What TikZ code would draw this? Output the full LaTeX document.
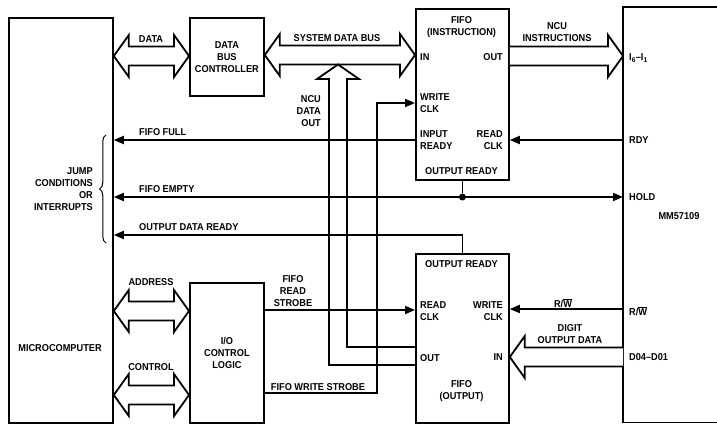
\documentclass[tikz,border=0pt]{standalone}
\usepackage{fontspec}
\setmainfont[FakeStretch=0.92]{Liberation Sans}
\usetikzlibrary{arrows.meta,calc,decorations.pathreplacing}

% horizontal bus, heads at both ends
\newcommand\busboth[2]{%
  \draw[bus] let \p1=(#1), \p2=(#2) in
    (\x1,\y1) -- ++(15pt,21pt) -- ++(0pt,-11.5pt) -- (\x2-15pt,\y1+9.5pt) -- ++(0pt,11.5pt)
    -- (\x2,\y1) -- ++(-15pt,-21pt) -- ++(0pt,11.5pt) -- (\x1+15pt,\y1-9.5pt) -- ++(0pt,-11.5pt) -- cycle;}
% horizontal bus, tail #1 (on a box edge), head at #2 pointing right
\newcommand\busright[2]{%
  \draw[bus] let \p1=(#1), \p2=(#2) in
    (\x1,\y1+9.5pt) -- (\x2-15pt,\y1+9.5pt) -- ++(0pt,11.5pt) -- (\x2,\y1)
    -- ++(-15pt,-21pt) -- ++(0pt,11.5pt) -- (\x1,\y1-9.5pt);}
% horizontal bus, tail #1 (on a box edge), head at #2 pointing left
\newcommand\busleft[2]{%
  \draw[bus] let \p1=(#1), \p2=(#2) in
    (\x1,\y1+9.5pt) -- (\x2+15pt,\y1+9.5pt) -- ++(0pt,11.5pt) -- (\x2,\y1)
    -- ++(15pt,-21pt) -- ++(0pt,11.5pt) -- (\x1,\y1-9.5pt);}

\begin{document}
\begin{tikzpicture}[x=1pt,y=-1pt,
  every node/.style={font=\bfseries\fontsize{10}{12}\selectfont, inner sep=0pt},
  box/.style={draw, line width=1.8pt, inner sep=0pt, anchor=north west, align=center},
  wire/.style={line width=1.8pt},
  tip/.tip={Triangle[length=10pt,width=8pt]},
  arr/.style={wire, -tip},
  darr/.style={wire, tip-tip},
  bus/.style={line width=1.8pt, fill=white, line join=miter},
]
\useasboundingbox (0,0) rectangle (717,425);

% ---------- boxes ----------
\node[box, minimum width=104, minimum height=405] (micro) at (8,17) {};
\node[box, minimum width=74, minimum height=78] (dbc) at (189,17) {DATA\\BUS\\CONTROLLER};
\node[box, minimum width=74, minimum height=140] (iocl) at (189,282) {I/O\\CONTROL\\LOGIC};
\node[box, minimum width=93, minimum height=171] (fifoi) at (415,8) {};
\node[box, minimum width=93, minimum height=169] (fifoo) at (415,253) {};
\node[anchor=north west, minimum width=110, minimum height=415] (mm) at (623,7) {};
\draw[wire] (mm.north east) -- (mm.north west) -- (mm.south west) -- (mm.south east);

% ---------- bus connectors ----------
\coordinate (dataL) at (micro.east |- 0,56);
\coordinate (dataR) at (dbc.west |- 0,56);
\busboth{dataL}{dataR}
\coordinate (addrL) at (micro.east |- 0,311);
\coordinate (addrR) at (iocl.west |- 0,311);
\busboth{addrL}{addrR}
\coordinate (ctrlL) at (micro.east |- 0,395);
\coordinate (ctrlR) at (iocl.west |- 0,395);
\busboth{ctrlL}{ctrlR}
\coordinate (sdbL) at (dbc.east |- 0,55);
\coordinate (sdbR) at (fifoi.west |- 0,55);
\busboth{sdbL}{sdbR}
\coordinate (nciL) at (fifoi.east |- 0,56);
\coordinate (nciR) at (mm.west |- 0,56);
\busright{nciL}{nciR}
\coordinate (dodR) at (mm.west |- 0,357);
\coordinate (dodL) at (fifoo.east |- 0,357);
\busleft{dodR}{dodL}

% NCU data out (open bus from FIFO output OUT up to the system data bus)
\coordinate (ncutip) at (338,64.5);
\draw[bus, fill=none] (fifoo.west |- 0,365) -| (329,79) -- (317,79) -- (ncutip)
  -- (359,79) -- (347,79) |- (fifoo.west |- 0,347);

% ---------- single-line connectors ----------
\draw[arr] (fifoi.west |- 0,140) -- (micro.east |- 0,140);
\draw[arr] (mm.west |- 0,140) -- (fifoi.east |- 0,140);
\draw[darr] (micro.east |- 0,197) -- (mm.west |- 0,197);
\node[circle, fill, minimum size=7pt] (jn) at (fifoi.south |- 0,197) {};
\draw[wire] (fifoi.south) -- (jn);
\draw[arr] (fifoo.north) |- (micro.east |- 0,235);
\coordinate (wc) at (377,103);
\draw[arr] (iocl.east |- 0,393) -| (wc) -- (fifoi.west |- wc);
\draw[arr] (iocl.east |- 0,310) -- (fifoo.west |- 0,310);
\draw[arr] (mm.west |- 0,309) -- (fifoo.east |- 0,309);

% brace
\draw[line width=1pt, decorate, decoration={brace, amplitude=6.5pt}] (106,243) -- (106,135);

% ---------- labels ----------
\node (lmicro) at (60,348) {MICROCOMPUTER};
\node[align=right, anchor=east] (ljump) at (93,189) {JUMP\\CONDITIONS\\OR\\INTERRUPTS};
\node (ldata) at (151,39) {DATA};
\node (laddr) at (151,282) {ADDRESS};
\node (lctrl) at (151,367) {CONTROL};
\node[anchor=west] (lfull) at (139,132) {FIFO FULL};
\node[anchor=west] (lempty) at (139,189) {FIFO EMPTY};
\node[anchor=west] (lodr) at (139,227) {OUTPUT DATA READY};
\node (lsdb) at (337,38) {SYSTEM DATA BUS};
\node[align=right, anchor=east] (lncu) at (321,111) {NCU\\DATA\\OUT};
\node[align=center] (lfrs) at (293,291) {FIFO\\READ\\STROBE};
\node (lfws) at (318,387) {FIFO WRITE STROBE};

\node[align=center] (lfi) at (461.5,27) {FIFO\\(INSTRUCTION)};
\node[anchor=west] (lfiin) at (420,57) {IN};
\node[anchor=east] (lfiout) at (503,57) {OUT};
\node[anchor=west, align=left] (lfiwc) at (420,103) {WRITE\\CLK};
\node[anchor=west, align=left] (lfiir) at (420,140) {INPUT\\READY};
\node[anchor=east, align=right] (lfirc) at (503,140) {READ\\CLK};
\node (lfior) at (461.5,171) {OUTPUT READY};

\node (lfoor) at (461.5,264) {OUTPUT READY};
\node[anchor=west, align=left] (lforc) at (420,311.5) {READ\\CLK};
\node[anchor=east, align=right] (lfowc) at (503,311.5) {WRITE\\CLK};
\node[anchor=west] (lfoout) at (420,358) {OUT};
\node[anchor=east] (lfoin) at (503,357) {IN};
\node[align=center] (lfo) at (461.5,391) {FIFO\\(OUTPUT)};

\node[align=center] (lnci) at (557,32) {NCU\\INSTRUCTIONS};
\node[align=center] (ldod) at (570,334.5) {DIGIT\\OUTPUT DATA};
\node (lrw) at (563,303) {R/$\overline{\hbox{W}}$};

\node[anchor=west] (li) at (629,58) {I\textsubscript{6}–I\textsubscript{1}};
\node[anchor=west] (lrdy) at (629,140) {RDY};
\node[anchor=west] (lhold) at (629,197) {HOLD};
\node (lmm) at (679,216) {MM57109};
\node[anchor=west] (lrw2) at (629,311) {R/$\overline{\hbox{W}}$};
\node[anchor=west] (ldo) at (629,357) {D04–D01};
\end{tikzpicture}
\end{document}
